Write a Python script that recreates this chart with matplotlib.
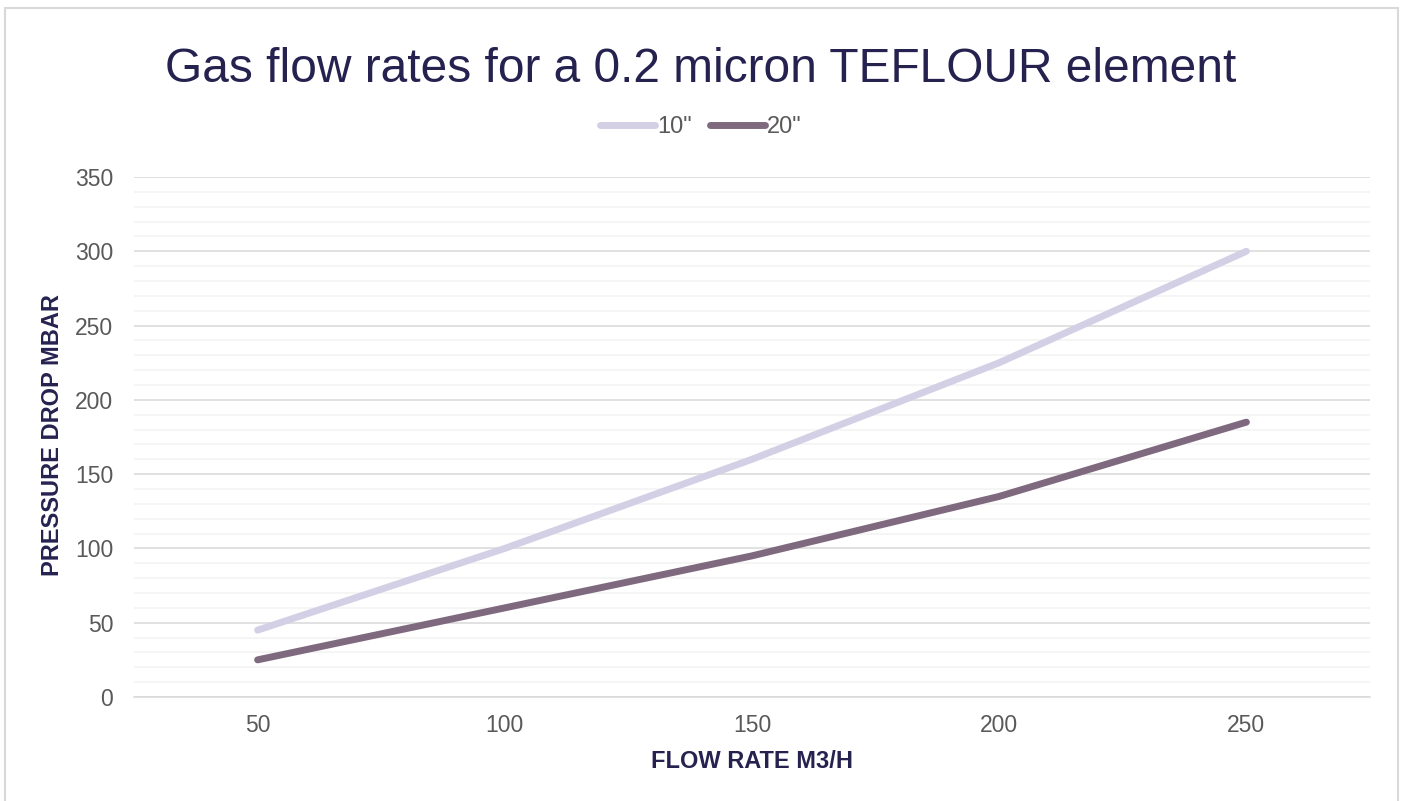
import matplotlib
matplotlib.use("Agg")
import matplotlib.pyplot as plt
from matplotlib.ticker import MultipleLocator
from matplotlib.lines import Line2D
from matplotlib.patches import Rectangle

plt.rcParams['font.family'] = ['Liberation Sans', 'DejaVu Sans']

categories = ["50", "100", "150", "200", "250"]
series_10 = [45, 100, 160, 225, 300]
series_20 = [25, 60, 95, 135, 185]
y_ticks = [0, 50, 100, 150, 200, 250, 300, 350]

W, H = 1405, 801
fig = plt.figure(figsize=(W / 100, H / 100), dpi=100)

# outer border
fig.patches.append(Rectangle((5 / W, -0.01), (1398 - 5) / W, (H - 8) / H + 0.01,
                             transform=fig.transFigure, fill=False,
                             edgecolor='#D9D9D9', linewidth=1.5))

left, right, top, bottom = 134, 1370, 177, 697
ax = fig.add_axes([left / W, 1 - bottom / H, (right - left) / W, (bottom - top) / H])

x = list(range(len(categories)))
ax.plot(x, series_10, color='#D3D0E6', linewidth=5, solid_capstyle='round',
        solid_joinstyle='round', zorder=3)
ax.plot(x, series_20, color='#7F697F', linewidth=5, solid_capstyle='round',
        solid_joinstyle='round', zorder=4)

ax.set_xlim(-0.5, len(categories) - 0.5)
ax.set_ylim(0, 350)
ax.set_xticks(x)
ax.set_xticklabels(categories)
ax.set_yticks(y_ticks)
ax.yaxis.set_minor_locator(MultipleLocator(10))

ax.grid(True, which='major', axis='y', color='#D9D9D9', linewidth=1.1, zorder=1)
ax.grid(True, which='minor', axis='y', color='#F2F2F2', linewidth=1.1, zorder=1)
ax.set_axisbelow(True)

for s in ['top', 'right', 'left']:
    ax.spines[s].set_visible(False)
ax.spines['bottom'].set_color('#D9D9D9')
ax.spines['bottom'].set_linewidth(1.1)

ax.tick_params(axis='both', which='both', length=0, labelsize=16.5, labelcolor='#595959')
ax.tick_params(axis='x', pad=12)
ax.tick_params(axis='y', pad=15)

fig.text(701 / W, 1 - 69 / H, 'Gas flow rates for a 0.2 micron TEFLOUR element',
         ha='center', va='center', fontsize=34.5, color='#25224F')

fig.text(752 / W, 1 - 762 / H, 'FLOW RATE M3/H', ha='center', va='center',
         fontsize=17, fontweight='bold', color='#25224F')
fig.text(53 / W, 1 - 435 / H, 'PRESSURE DROP MBAR', ha='center', va='center',
         rotation=90, fontsize=17, fontweight='bold', color='#25224F')

handles = [Line2D([], [], color='#D3D0E6', linewidth=5, solid_capstyle='round'),
           Line2D([], [], color='#7F697F', linewidth=5, solid_capstyle='round')]
leg = fig.legend(handles, ['10"', '20"'], loc='center', bbox_to_anchor=(701 / W, 1 - 127 / H),
                 ncol=2, frameon=False, fontsize=17, handlelength=2.3, handletextpad=0.1,
                 columnspacing=0.8, labelcolor='#595959')

fig.savefig('out.png', dpi=100)
